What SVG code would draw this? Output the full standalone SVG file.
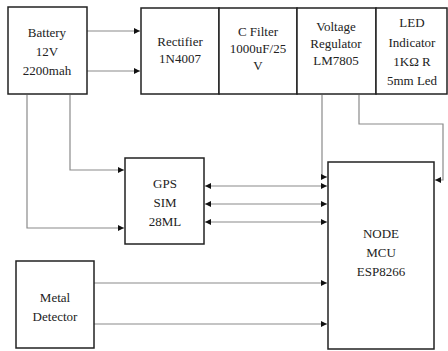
<svg xmlns="http://www.w3.org/2000/svg" width="448" height="351" viewBox="0 0 448 351">
<defs>
<style>
.box{fill:#fff;stroke:#222;stroke-width:1.5}
.ln{fill:none;stroke:#8a8a8a;stroke-width:1.2}
text{font-family:'Liberation Serif','Times New Roman','DejaVu Serif',serif;font-size:13px;fill:#222;text-anchor:middle}
</style>
<marker id="ah" viewBox="0 0 10 10" refX="10" refY="5" markerWidth="6" markerHeight="6" markerUnits="userSpaceOnUse" orient="auto-start-reverse">
<path d="M0,0 L10,5 L0,10 z" fill="#111"/>
</marker>
</defs>
<rect width="448" height="351" fill="#fff"/>
<g id="connectors">
<line class="ln" x1="87" y1="31" x2="140" y2="31" marker-end="url(#ah)"/>
<line class="ln" x1="87" y1="71" x2="140" y2="71" marker-end="url(#ah)"/>
<polyline class="ln" points="70,95 70,170 124,170" marker-end="url(#ah)"/>
<polyline class="ln" points="27,95 27,228 124,228" marker-end="url(#ah)"/>
<polyline class="ln" points="322,95 322,177 327,177" marker-end="url(#ah)"/>
<polyline class="ln" points="359,95 359,124 443,124 443,180 435,180" marker-end="url(#ah)"/>
<line class="ln" x1="205" y1="186" x2="327" y2="186" marker-start="url(#ah)" marker-end="url(#ah)"/>
<line class="ln" x1="205" y1="204" x2="327" y2="204" marker-start="url(#ah)" marker-end="url(#ah)"/>
<line class="ln" x1="205" y1="222" x2="327" y2="222" marker-start="url(#ah)" marker-end="url(#ah)"/>
<line class="ln" x1="94" y1="283" x2="327" y2="283" marker-end="url(#ah)"/>
<line class="ln" x1="94" y1="324" x2="327" y2="324" marker-end="url(#ah)"/>
</g>
<g id="battery">
<rect class="box" x="8" y="7" width="79" height="87"/>
<text x="47" y="37">Battery</text>
<text x="47" y="56">12V</text>
<text x="47" y="75">2200mah</text>
</g>
<g id="rectifier">
<rect class="box" x="141" y="8" width="78" height="86"/>
<text x="180" y="46">Rectifier</text>
<text x="180" y="63">1N4007</text>
</g>
<g id="cfilter">
<rect class="box" x="219" y="8" width="78" height="86"/>
<text x="258" y="36">C Filter</text>
<text x="258" y="53">1000uF/25</text>
<text x="258" y="70">V</text>
</g>
<g id="regulator">
<rect class="box" x="297" y="8" width="79" height="86"/>
<text x="336" y="31">Voltage</text>
<text x="336" y="48">Regulator</text>
<text x="336" y="65">LM7805</text>
</g>
<g id="led">
<rect class="box" x="376" y="8" width="71" height="86"/>
<text x="412" y="27">LED</text>
<text x="412" y="47">Indicator</text>
<text x="412" y="66">1KΩ R</text>
<text x="412" y="85">5mm Led</text>
</g>
<g id="gps">
<rect class="box" x="125" y="158" width="79" height="86"/>
<text x="165" y="188">GPS</text>
<text x="165" y="207">SIM</text>
<text x="165" y="226">28ML</text>
</g>
<g id="nodemcu">
<rect class="box" x="328" y="162" width="106" height="187"/>
<text x="381" y="238">NODE</text>
<text x="381" y="257">MCU</text>
<text x="381" y="276">ESP8266</text>
</g>
<g id="metal">
<rect class="box" x="16" y="261" width="78" height="87"/>
<text x="55" y="302">Metal</text>
<text x="55" y="321">Detector</text>
</g>
</svg>
